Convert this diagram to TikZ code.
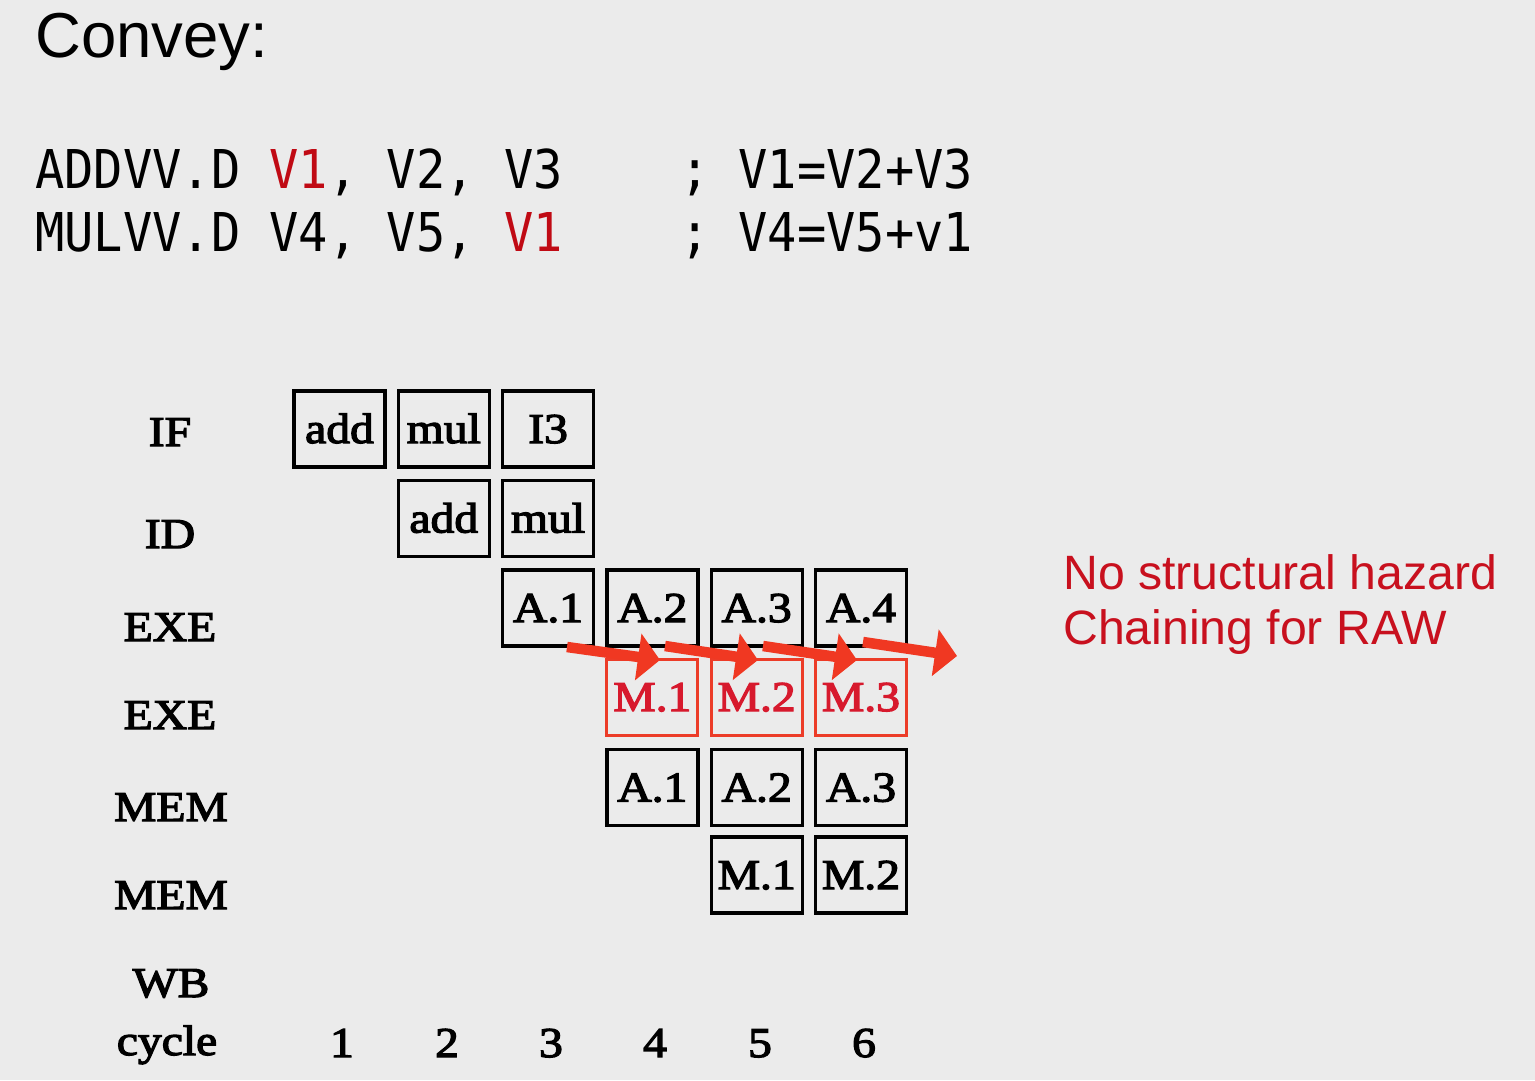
\documentclass[tikz,border=0pt]{standalone}
\usepackage{fontspec}
\setmainfont{Liberation Serif}
\newfontfamily\tnr[FakeStretch=1.12,FakeBold=3]{Liberation Serif}
\newfontfamily\codefont[FakeStretch=0.91]{DejaVu Sans Mono}
\newfontfamily\arialf{Liberation Sans}
\usetikzlibrary{arrows.meta}
\definecolor{bg}{RGB}{235,235,235}
\definecolor{codered}{RGB}{192,10,20}
\definecolor{notered}{RGB}{200,16,30}
\definecolor{boxred}{RGB}{236,60,40}
\definecolor{mred}{RGB}{215,25,45}
\definecolor{arrred}{RGB}{240,56,34}
\begin{document}
\begin{tikzpicture}[x=1pt,y=-1pt,
  stage/.style={anchor=base, inner sep=0pt, font=\tnr\fontsize{42.5}{46}\selectfont, text=black},
  cell/.style={draw=black, line width=3.4pt, minimum width=91pt, minimum height=76pt, inner sep=0pt,
    text height=28pt, text depth=0pt, font=\tnr\fontsize{42.5}{46}\selectfont},
  mcell/.style={cell, draw=boxred, line width=3pt, text=mred},
  chain/.style={draw=arrred, line width=10.5pt, -{Triangle[length=22pt,width=46pt]}},
  codeline/.style={anchor=base west, inner sep=0pt, font=\codefont\fontsize{53.5}{60}\selectfont\frenchspacing},
  note/.style={anchor=base west, inner sep=0pt, text=notered, font=\arialf\fontsize{48.2}{52}\selectfont}
]
\fill[bg] (0,0) rectangle (1535,1080);
\useasboundingbox (0,0) rectangle (1535,1080);

% title
\node[anchor=base west, inner sep=0pt, font=\arialf\fontsize{63.5}{70}\selectfont] (title) at (35,57) {Convey:};

% code
\node[codeline] (code1) at (35,188) {ADDVV.D \textcolor{codered}{V1}, V2, V3\ \ \ \ ; V1=V2+V3};
\node[codeline] (code2) at (35,251) {MULVV.D V4, V5, \textcolor{codered}{V1}\ \ \ \ ; V4=V5+v1};

% note
\node[note] (note1) at (1063,589) {No structural hazard};
\node[note] (note2) at (1063,644) {Chaining for RAW};

% stage labels
\node[stage] (lif)   at (170,446) {IF};
\node[stage] (lid)   at (170,548) {ID};
\node[stage] (lexa)  at (170,641) {EXE};
\node[stage] (lexm)  at (170,729) {EXE};
\node[stage] (lmema) at (171,821) {MEM};
\node[stage] (lmemm) at (171,909) {MEM};
\node[stage] (lwb)   at (171,997) {WB};
\node[stage] (lcyc)  at (167,1055) {cycle};

% cycle numbers
\node[stage] (n1) at (342,1057) {1};
\node[stage] (n2) at (447,1057) {2};
\node[stage] (n3) at (551,1057) {3};
\node[stage] (n4) at (655,1057) {4};
\node[stage] (n5) at (760,1057) {5};
\node[stage] (n6) at (864,1057) {6};

% IF row
\node[cell] (if1) at (339.5,429) {add};
\node[cell] (if2) at (443.8,429) {mul};
\node[cell] (if3) at (548.1,429) {I3};
% ID row
\node[cell] (id2) at (443.8,518.5) {add};
\node[cell] (id3) at (548.1,518.5) {mul};
% EXE add row
\node[cell] (ea1) at (548.1,608) {A.1};
\node[cell] (ea2) at (652.4,608) {A.2};
\node[cell] (ea3) at (756.7,608) {A.3};
\node[cell] (ea4) at (861,608) {A.4};
% EXE mul row
\node[mcell] (em1) at (652.4,697) {M.1};
\node[mcell] (em2) at (756.7,697) {M.2};
\node[mcell] (em3) at (861,697) {M.3};
% MEM add row
\node[cell] (ma1) at (652.4,787.5) {A.1};
\node[cell] (ma2) at (756.7,787.5) {A.2};
\node[cell] (ma3) at (861,787.5) {A.3};
% MEM mul row
\node[cell] (mm1) at (756.7,875) {M.1};
\node[cell] (mm2) at (861,875) {M.2};

% chaining arrows
\coordinate (s1) at (567,647);  \coordinate (t1) at (660,660);
\coordinate (s2) at (665,646);  \coordinate (t2) at (758,660);
\coordinate (s3) at (763,646);  \coordinate (t3) at (857,660);
\coordinate (s4) at (863,642);  \coordinate (t4) at (957,656);
\draw[chain] (s1) -- (t1);
\draw[chain] (s2) -- (t2);
\draw[chain] (s3) -- (t3);
\draw[chain] (s4) -- (t4);
\end{tikzpicture}
\end{document}
